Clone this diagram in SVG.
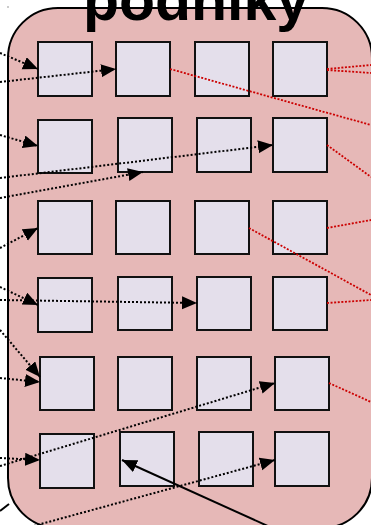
<svg xmlns="http://www.w3.org/2000/svg" width="371" height="525" viewBox="0 0 371 525">
<defs>
<style>
.node rect{fill:#e4dfeb;stroke:#111;stroke-width:2}
.dot{fill:none;stroke:#000;stroke-width:2;stroke-dasharray:2,2}
.red{fill:none;stroke:#cc0000;stroke-width:1.8;stroke-dasharray:2,1.6}
.solid{fill:none;stroke:#000;stroke-width:2}
</style>
<marker id="ah" markerUnits="userSpaceOnUse" markerWidth="16" markerHeight="14" refX="15" refY="6.5" orient="auto">
<path d="M0,0 L15,6.5 L0,13 z" fill="#000"/>
</marker>
</defs>
<rect width="371" height="525" fill="#fff"/>
<circle cx="8" cy="7" r="0.8" fill="#888"/>
<g id="container">
<rect x="8" y="8" width="364" height="520" rx="50" ry="50" fill="#e6b8b7" stroke="#000" stroke-width="2"/>
<text x="196" y="20" text-anchor="middle" font-family="'Liberation Sans', Arial, sans-serif" font-weight="bold" font-size="59" fill="#000">podniky</text>
</g>
<g id="n11" class="node"><rect x="38" y="42" width="54" height="54"/></g>
<g id="n12" class="node"><rect x="116" y="42" width="54" height="54"/></g>
<g id="n13" class="node"><rect x="195" y="42" width="54" height="54"/></g>
<g id="n14" class="node"><rect x="273" y="42" width="54" height="54"/></g>
<g id="n21" class="node"><rect x="38" y="120" width="54" height="53"/></g>
<g id="n22" class="node"><rect x="118" y="118" width="54" height="54"/></g>
<g id="n23" class="node"><rect x="197" y="118" width="54" height="54"/></g>
<g id="n24" class="node"><rect x="273" y="118" width="54" height="54"/></g>
<g id="n31" class="node"><rect x="38" y="201" width="54" height="53"/></g>
<g id="n32" class="node"><rect x="116" y="201" width="54" height="53"/></g>
<g id="n33" class="node"><rect x="195" y="201" width="54" height="53"/></g>
<g id="n34" class="node"><rect x="273" y="201" width="54" height="53"/></g>
<g id="n41" class="node"><rect x="38" y="278" width="54" height="54"/></g>
<g id="n42" class="node"><rect x="118" y="277" width="54" height="53"/></g>
<g id="n43" class="node"><rect x="197" y="277" width="54" height="53"/></g>
<g id="n44" class="node"><rect x="273" y="277" width="54" height="53"/></g>
<g id="n51" class="node"><rect x="40" y="357" width="54" height="53"/></g>
<g id="n52" class="node"><rect x="118" y="357" width="54" height="53"/></g>
<g id="n53" class="node"><rect x="197" y="357" width="54" height="53"/></g>
<g id="n54" class="node"><rect x="275" y="357" width="54" height="53"/></g>
<g id="n61" class="node"><rect x="40" y="434" width="54" height="54"/></g>
<g id="n62" class="node"><rect x="120" y="432" width="54" height="54"/></g>
<g id="n63" class="node"><rect x="199" y="432" width="54" height="54"/></g>
<g id="n64" class="node"><rect x="275" y="432" width="54" height="54"/></g>
<g id="connectors">
<line class="dot" x1="0" y1="53" x2="38" y2="69" marker-end="url(#ah)"/>
<line class="dot" x1="0" y1="82" x2="116" y2="69" marker-end="url(#ah)"/>
<line class="dot" x1="0" y1="135" x2="38" y2="146" marker-end="url(#ah)"/>
<line class="dot" x1="0" y1="178" x2="273" y2="145" marker-end="url(#ah)"/>
<line class="dot" x1="0" y1="198" x2="143" y2="172" marker-end="url(#ah)"/>
<line class="dot" x1="0" y1="248" x2="38" y2="228" marker-end="url(#ah)"/>
<line class="dot" x1="0" y1="287" x2="38" y2="305" marker-end="url(#ah)"/>
<line class="dot" x1="0" y1="300" x2="197" y2="303" marker-end="url(#ah)"/>
<line class="dot" x1="0" y1="330" x2="40" y2="377" marker-end="url(#ah)"/>
<line class="dot" x1="0" y1="378" x2="40" y2="382" marker-end="url(#ah)"/>
<line class="dot" x1="0" y1="466" x2="275" y2="383" marker-end="url(#ah)"/>
<line class="dot" x1="0" y1="458" x2="40" y2="460" marker-end="url(#ah)"/>
<line class="dot" x1="30" y1="527" x2="275" y2="460" marker-end="url(#ah)"/>
<line class="solid" x1="270" y1="527" x2="122" y2="460" marker-end="url(#ah)"/>
<line class="solid" x1="0" y1="511" x2="9" y2="504"/>
<line class="red" x1="170" y1="69" x2="371" y2="125"/>
<line class="red" x1="327" y1="69" x2="371" y2="65"/>
<line class="red" x1="327" y1="70" x2="371" y2="73"/>
<line class="red" x1="327" y1="145" x2="371" y2="177"/>
<line class="red" x1="249" y1="228" x2="371" y2="295"/>
<line class="red" x1="327" y1="228" x2="371" y2="220"/>
<line class="red" x1="327" y1="303" x2="371" y2="300"/>
<line class="red" x1="329" y1="383" x2="371" y2="402"/>
</g>
</svg>
